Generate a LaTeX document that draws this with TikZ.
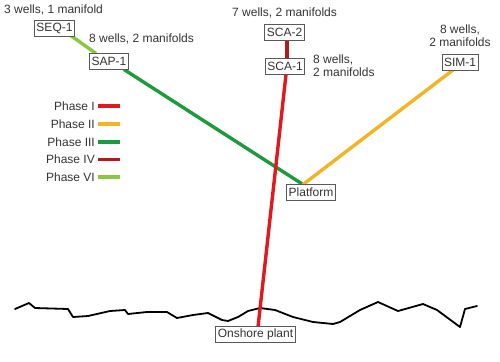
\documentclass[tikz,border=0pt]{standalone}
\usepackage{fontspec}
\setmainfont{Liberation Sans}
\definecolor{phI}{HTML}{E3171E}
\definecolor{phII}{HTML}{F2B424}
\definecolor{phIII}{HTML}{1E9A3E}
\definecolor{phIV}{HTML}{B11A1F}
\definecolor{phVI}{HTML}{8CC63F}
\definecolor{txt}{HTML}{333333}
\begin{document}
\begin{tikzpicture}[x=1pt,y=-1pt,
  font=\fontsize{12}{13}\selectfont,
  every node/.style={text=txt},
  site/.style={draw=black!65, line width=0.8pt, fill=white, inner xsep=2pt, inner ysep=1.5pt, minimum height=16pt},
  lbl/.style={inner sep=0pt},
  pipe/.style={line width=3.4pt},
  coast/.style={line width=1.8pt, line join=round, line cap=round}
]
\useasboundingbox (0,0) rectangle (500,361);

% coastline
\draw[coast] (15,309) -- (29,303) -- (35,308) -- (68,309) -- (73,317) -- (88,316) -- (110,311) -- (125,310) -- (128,314) -- (147,312) -- (167,312) -- (177,318) -- (193,315) -- (208,313) -- (222,320) -- (228,321) -- (238,317) -- (248,311) -- (260,308) -- (275,310) -- (293,317) -- (313,322) -- (333,324) -- (340,322) -- (360,310) -- (378,302) -- (398,311) -- (423,304) -- (437,310) -- (460,327) -- (465,309) -- (477,306);

\coordinate (pj) at (303,184.5);
\coordinate (seqe) at (70,35);
\coordinate (sapw) at (96,53.5);
\coordinate (sape) at (124,69.5);
\coordinate (sca2s) at (287,40.5);
\coordinate (sca1n) at (287,58);
\coordinate (sca1s) at (286,74.5);
\coordinate (onshn) at (258,327);
\coordinate (simw) at (453,70);

% pipelines
\draw[pipe, phVI] (seqe) -- (sapw);
\draw[pipe, phIII] (sape) -- (pj);
\draw[pipe, phII] (simw) -- (pj);
\draw[pipe, phIV] (sca2s) -- (sca1n);
\draw[pipe, phI] (sca1s) -- (onshn);

% sites
\node[site] (seq) at (54.5,28) {SEQ-1};
\node[site] (sap) at (109,61) {SAP-1};
\node[site] (sca2) at (284.5,32.5) {SCA-2};
\node[site] (sca1) at (285,66) {SCA-1};
\node[site] (sim) at (460,62.5) {SIM-1};
\node[site] (plat) at (311,192.5) {Platform};
\node[site] (onsh) at (255.5,334.5) {Onshore plant};

% labels
\node[lbl, anchor=west] (l1) at (4,10) {3 wells, 1 manifold};
\node[lbl, anchor=west] (l2) at (89,39) {8 wells, 2 manifolds};
\node[lbl, anchor=west] (l3) at (232,13) {7 wells, 2 manifolds};
\node[lbl, anchor=west, align=left] (l4) at (313,66) {8 wells,\\2 manifolds};
\node[lbl, align=center] (l5) at (460,36) {8 wells,\\2 manifolds};

% legend
\node[lbl, anchor=east] (p1) at (95,106) {Phase I};
\node[lbl, anchor=east] (p2) at (95,124) {Phase II};
\node[lbl, anchor=east] (p3) at (95,142) {Phase III};
\node[lbl, anchor=east] (p4) at (95,159.5) {Phase IV};
\node[lbl, anchor=east] (p5) at (95,177) {Phase VI};
\draw[pipe, phI] (p1.east) ++(3,0) -- ++(22,0);
\draw[pipe, phII] (p2.east) ++(3,0) -- ++(22,0);
\draw[pipe, phIII] (p3.east) ++(3,0) -- ++(22,0);
\draw[pipe, phIV] (p4.east) ++(3,0) -- ++(22,0);
\draw[pipe, phVI] (p5.east) ++(3,0) -- ++(22,0);
\end{tikzpicture}
\end{document}
